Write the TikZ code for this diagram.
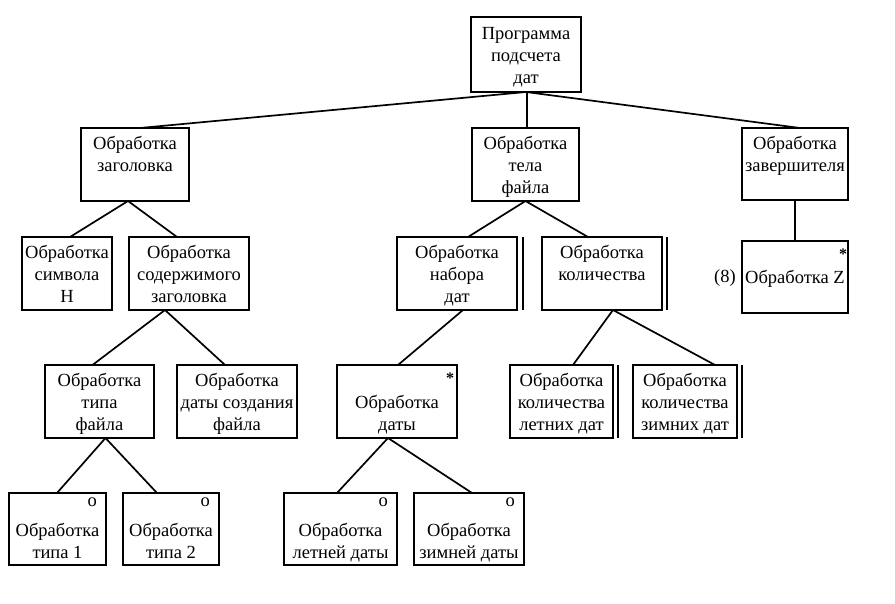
\documentclass[tikz,border=0pt]{standalone}
\usepackage{fontspec}
\setmainfont{Liberation Serif}
\usetikzlibrary{calc}
\tikzset{
  box/.style={draw, line width=1.7pt, inner sep=0pt, outer sep=0pt},
  txt/.style={align=center, inner sep=0pt, anchor=north, font=\fontsize{18.5}{22}\selectfont},
  omark/.style={inner sep=0pt, anchor=base east, font=\fontsize{18.5}{22}\selectfont},
  smark/.style={inner sep=0pt, anchor=center, font=\fontsize{16}{16}\selectfont\bfseries},
  link/.style={line width=1.7pt},
  bar/.style={line width=1.7pt}
}
% \blockbox{name}{left}{top}{right}{bottom}{first baseline offset}{text}
\newcommand\blockbox[7]{%
  \node[box, minimum width={#4-#2}, minimum height={#5-#3}] (#1) at ({(#2+#4)/2},{(#3+#5)/2}) {};
  \node[txt] (#1-t) at ({(#2+#4)/2},{#3+#6-14}) {\rule{0pt}{14pt}#7};
}
\begin{document}
\begin{tikzpicture}[x=1pt,y=-1pt]
\fill[white] (0,0) rectangle (895,604);
\useasboundingbox (0,0) rectangle (895,604);

% level 0
\blockbox{root}{471}{17}{581}{92}{22}{Программа\\подсчета\\дат}

% level 1
\blockbox{zag}{81}{128}{189}{201}{21}{Обработка\\заголовка}
\blockbox{tel}{472}{128}{579}{201}{21}{Обработка\\тела\\файла}
\blockbox{zav}{742}{128}{848}{200}{21}{Обработка\\завершителя}

% level 2
\blockbox{symH}{22}{237}{112}{310}{21}{Обработка\\символа\\H}
\blockbox{soder}{129}{237}{249}{310}{21}{Обработка\\содержимого\\заголовка}
\blockbox{nabor}{397}{237}{517}{310}{21}{Обработка\\набора\\дат}
\blockbox{kolvo}{542}{237}{662}{310}{21}{Обработка\\количества}
\blockbox{procZ}{742}{241}{848}{313}{42}{Обработка Z}

% level 3
\blockbox{tipf}{45}{365}{154}{438}{21}{Обработка\\типа\\файла}
\blockbox{dsozd}{177}{365}{297}{438}{21}{Обработка\\даты создания\\файла}
\blockbox{data}{337}{365}{457}{438}{43}{Обработка\\даты}
\blockbox{leto}{510}{365}{613}{438}{21}{Обработка\\количества\\летних дат}
\blockbox{zima}{633}{365}{737}{438}{21}{Обработка\\количества\\зимних дат}

% level 4
\blockbox{t1}{9}{493}{106}{565}{43}{Обработка\\типа 1}
\blockbox{t2}{123}{493}{219}{565}{43}{Обработка\\типа 2}
\blockbox{let}{284}{493}{397}{565}{43}{Обработка\\летней даты}
\blockbox{zim}{414}{493}{524}{565}{43}{Обработка\\зимней даты}

% selection / iteration marks
\node[omark] (t1-o) at ([xshift=-9pt,yshift=-13pt]t1.north east) {о};
\node[omark] (t2-o) at ([xshift=-9pt,yshift=-13pt]t2.north east) {о};
\node[omark] (let-o) at ([xshift=-9pt,yshift=-13pt]let.north east) {о};
\node[omark] (zim-o) at ([xshift=-9pt,yshift=-13pt]zim.north east) {о};
\node[smark] (data-s) at ([xshift=-7pt,yshift=-13pt]data.north east) {*};
\node[smark] (procZ-s) at ([xshift=-5pt,yshift=-13pt]procZ.north east) {*};
\node[txt, anchor=base] (procZ-n) at (725,283) {(8)};

% double right edges
\coordinate (nabor-b1) at ([xshift=6pt]nabor.north east);
\coordinate (nabor-b2) at ([xshift=6pt]nabor.south east);
\coordinate (kolvo-b1) at ([xshift=5pt]kolvo.north east);
\coordinate (kolvo-b2) at ([xshift=5pt]kolvo.south east);
\coordinate (leto-b1) at ([xshift=5pt]leto.north east);
\coordinate (leto-b2) at ([xshift=5pt]leto.south east);
\coordinate (zima-b1) at ([xshift=5pt]zima.north east);
\coordinate (zima-b2) at ([xshift=5pt]zima.south east);
\draw[bar] (nabor-b1) -- (nabor-b2);
\draw[bar] (kolvo-b1) -- (kolvo-b2);
\draw[bar] (leto-b1) -- (leto-b2);
\draw[bar] (zima-b1) -- (zima-b2);

% connectors
\draw[link] (root.south) -- ([xshift=5pt]zag.north);
\draw[link] ([xshift=1pt]root.south) -- ([xshift=1.5pt]tel.north);
\draw[link] (root.south) -- ([xshift=5pt]zav.north);

\draw[link] ([xshift=-7pt]zag.south) -- ([xshift=3pt]symH.north);
\draw[link] ([xshift=-7pt]zag.south) -- ([xshift=-12pt]soder.north);

\draw[link] ([xshift=-24pt]soder.south) -- ([xshift=-7pt]tipf.north);
\draw[link] ([xshift=-24pt]soder.south) -- ([xshift=-12pt]dsozd.north);

\draw[link] ([xshift=6pt]tipf.south) -- ([xshift=-0.5pt]t1.north);
\draw[link] ([xshift=6pt]tipf.south) -- ([xshift=-14pt]t2.north);

\draw[link] (tel.south) -- ([xshift=11pt]nabor.north);
\draw[link] (tel.south) -- ([xshift=-14pt]kolvo.north);

\draw[link] ([xshift=6pt]nabor.south) -- ([xshift=1pt]data.north);

\draw[link] ([xshift=-9pt]data.south) -- ([xshift=-3.5pt]let.north);
\draw[link] ([xshift=-9pt]data.south) -- ([xshift=3pt]zim.north);

\draw[link] ([xshift=11pt]kolvo.south) -- ([xshift=11.5pt]leto.north);
\draw[link] ([xshift=11pt]kolvo.south) -- ([xshift=30pt]zima.north);

\draw[link] (zav.south) -- (procZ.north);
\end{tikzpicture}
\end{document}
